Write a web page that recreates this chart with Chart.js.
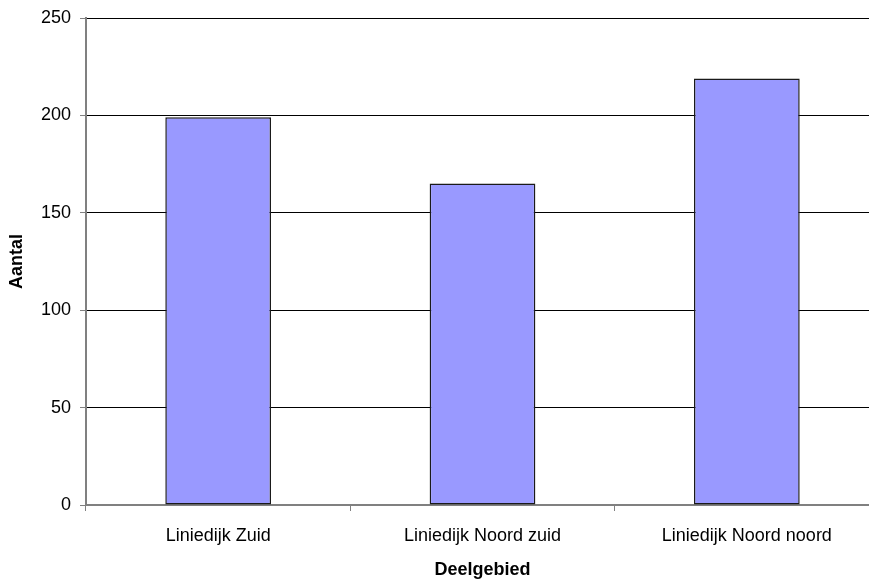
<!DOCTYPE html>
<html>
<head>
<meta charset="utf-8">
<script src="https://cdn.jsdelivr.net/npm/chart.js@4.4.1/dist/chart.umd.min.js"></script>
<style>
  html, body { margin: 0; padding: 0; background: #fff; overflow: hidden; }
  #wrap { width: 880px; height: 582px; }
</style>
</head>
<body>
<div id="wrap"><canvas id="chart" width="880" height="582"></canvas></div>
<script>
// Aantal per deelgebied
const deelgebieden = ["Liniedijk Zuid", "Liniedijk Noord zuid", "Liniedijk Noord noord"];
const aantallen = [199, 165, 219];
const yTicks = [0, 50, 100, 150, 200, 250];

const fontFamily = "'Liberation Sans', Arial, sans-serif";

const ctx = document.getElementById("chart").getContext("2d");
const chart = new Chart(ctx, {
    type: "bar",
    data: {
        labels: deelgebieden,
        datasets: [{
            data: aantallen,
            backgroundColor: "#9999ff",
            borderColor: "#1a1a1a",
            borderWidth: 1.5,
            borderSkipped: false,
            barPercentage: 0.4,
            categoryPercentage: 1
        }]
    },
    options: {
        responsive: false,
        animation: false,
        layout: { padding: { top: 17, right: 1, left: 0, bottom: 0 } },
        plugins: {
            legend: { display: false },
            tooltip: { enabled: false }
        },
        scales: {
            x: {
                grid: {
                    offset: true,
                    drawOnChartArea: false,
                    drawTicks: true,
                    tickLength: 6,
                    color: "#808080"
                },
                border: { color: "#808080", width: 2 },
                ticks: {
                    color: "#000",
                    padding: 14,
                    font: { family: fontFamily, size: 18 }
                },
                title: {
                    display: true,
                    text: "Deelgebied",
                    color: "#000",
                    padding: { top: 0, bottom: 1 },
                    font: { family: fontFamily, size: 18, weight: "bold" }
                },
                afterFit: s => { s.height = 77; }
            },
            y: {
                min: 0,
                max: 250,
                afterBuildTicks: s => { s.ticks = yTicks.map(v => ({ value: v })); },
                grid: {
                    color: "#000",
                    lineWidth: 1,
                    tickLength: 6,
                    tickColor: "#808080"
                },
                border: { color: "#808080", width: 2 },
                ticks: {
                    color: "#000",
                    padding: 9,
                    font: { family: fontFamily, size: 18, lineHeight: 1 }
                },
                title: {
                    display: true,
                    text: "Aantal",
                    color: "#000",
                    padding: { top: 6, bottom: 0 },
                    font: { family: fontFamily, size: 18, weight: "bold" }
                },
                afterFit: s => { s.width = 86; }
            }
        }
    }
});
</script>
</body>
</html>
